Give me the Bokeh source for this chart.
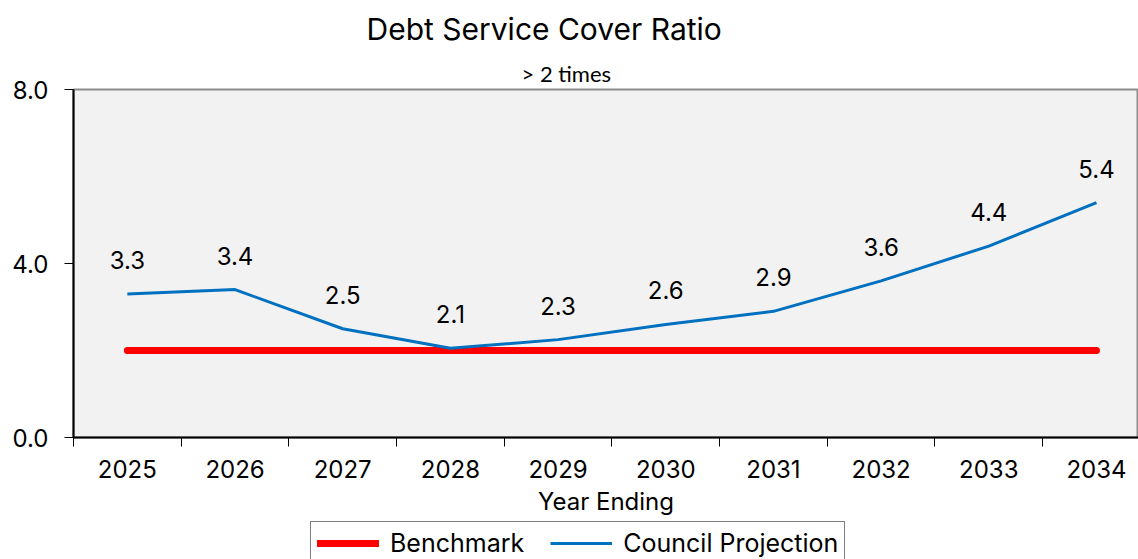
from bokeh.plotting import figure
from bokeh.layouts import column
from bokeh.models import (ColumnDataSource, FixedTicker, Title, Legend, LegendItem, Range1d)
from bokeh.core.properties import value
from bokeh.embed import file_html
from bokeh.resources import INLINE

years = ["2025", "2026", "2027", "2028", "2029", "2030", "2031", "2032", "2033", "2034"]
benchmark = [2.0] * 10
council = [3.3, 3.4, 2.5, 2.05, 2.25, 2.6, 2.9, 3.6, 4.4, 5.4]
council_labels = ["3.3", "3.4", "2.5", "2.1", "2.3", "2.6", "2.9", "3.6", "4.4", "5.4"]

FONT = "Inter"
FS = "24px"
xs = [i + 0.5 for i in range(len(years))]

src = ColumnDataSource(dict(x=xs, bench=benchmark, council=council, lab=council_labels))

p = figure(width=1138, height=521, output_backend="svg", toolbar_location=None,
           x_range=Range1d(0, 9.89), y_range=Range1d(0, 8),
           min_border_left=73, min_border_right=0, min_border_top=89, min_border_bottom=84,
           title=None)
p.border_fill_color = "white"
p.background_fill_color = "#f2f2f2"
p.outline_line_color = "#8c8c8c"
p.outline_line_width = 2
p.grid.visible = False

# titles
p.add_layout(Title(text="> 2 times", text_font="Lato", text_font_size="22px",
                   text_font_style="normal", align="left", offset=448,
                   standoff=5, text_color="black"), "above")
p.add_layout(Title(text="Debt Service Cover Ratio", text_font=FONT, text_font_size="30px",
                   text_font_style="normal", align="left", offset=293,
                   standoff=17, text_color="black"), "above")

# lines
p.line("x", "bench", source=src, line_color="#ff0000", line_width=7, line_cap="round")
p.line("x", "council", source=src, line_color="#0070c0", line_width=3)

p.text("x", "council", text="lab", source=src, y_offset=-34, text_align="center",
       text_baseline="middle", text_font=value(FONT), text_font_size=FS, text_color="black")

# x axis
xa = p.xaxis[0]
xa.ticker = FixedTicker(ticks=xs, minor_ticks=list(range(0, 11)))
xa.major_label_overrides = {x: y for x, y in zip(xs, years)}
xa.major_tick_out = 0
xa.major_tick_in = 0
xa.minor_tick_out = 9
xa.minor_tick_in = 0
xa.minor_tick_line_color = "black"
xa.axis_line_color = "black"
xa.axis_line_width = 2
xa.major_label_text_font = FONT
xa.major_label_text_font_size = FS
xa.major_label_text_color = "black"
xa.major_label_standoff = 13
xa.axis_label = "Year Ending"
xa.axis_label_text_font = FONT
xa.axis_label_text_font_size = FS
xa.axis_label_text_font_style = "normal"
xa.axis_label_text_color = "black"
xa.axis_label_standoff = 6

ya = p.yaxis[0]
ya.ticker = FixedTicker(ticks=[0, 4, 8], minor_ticks=[])
ya.major_label_overrides = {0: "0.0", 4: "4.0", 8: "8.0"}
ya.major_tick_out = 9
ya.major_tick_in = 0
ya.major_tick_line_color = "black"
ya.axis_line_color = "black"
ya.axis_line_width = 2
ya.major_label_text_font = FONT
ya.major_label_text_font_size = FS
ya.major_label_text_color = "black"
ya.major_label_standoff = 16

# legend strip (separate figure so the box is not clipped by the plot frame)
p2 = figure(width=1138, height=38, output_backend="svg", toolbar_location=None,
            x_range=Range1d(0, 9.89), y_range=Range1d(100, 101),
            x_axis_type=None, y_axis_type=None,
            min_border_left=0, min_border_right=0, min_border_top=0, min_border_bottom=0)
p2.outline_line_color = None
p2.background_fill_color = "white"
p2.border_fill_color = "white"
p2.grid.visible = False
lb = p2.line("x", "bench", source=src, line_color="#ff0000", line_width=7, line_cap="round")
lc = p2.line("x", "council", source=src, line_color="#0070c0", line_width=3)

legend = Legend(items=[LegendItem(label="Benchmark", renderers=[lb]),
                       LegendItem(label="Council Projection", renderers=[lc])],
                orientation="horizontal", location=(237, -6),
                label_text_font=FONT, label_text_font_size="25px", label_text_color="black",
                glyph_width=62, glyph_height=20, spacing=26, padding=6, margin=0,
                label_standoff=11,
                border_line_color="black", border_line_width=1,
                background_fill_color="white", background_fill_alpha=1)
p2.add_layout(legend, "center")

layout = column(p, p2, spacing=0)
open("out.html", "w").write(file_html(layout, INLINE))
